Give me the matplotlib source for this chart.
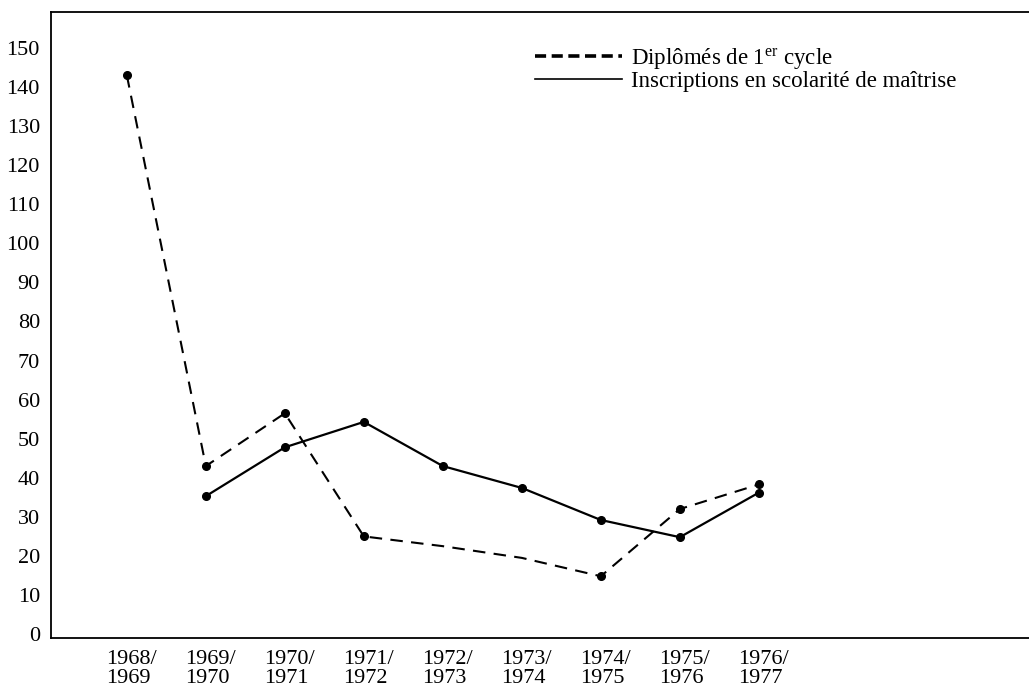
import matplotlib
matplotlib.use("Agg")
import matplotlib.pyplot as plt
import matplotlib.transforms as mtransforms
from matplotlib.lines import Line2D
import numpy as np

plt.rcParams['font.family'] = ['Liberation Serif', 'DejaVu Serif']
plt.rcParams['mathtext.fontset'] = 'custom'
plt.rcParams['mathtext.rm'] = 'Liberation Serif'
plt.rcParams['mathtext.it'] = 'Liberation Serif:italic'
plt.rcParams['lines.scale_dashes'] = False

annees = ['1968/\n1969', '1969/\n1970', '1970/\n1971', '1971/\n1972', '1972/\n1973',
          '1973/\n1974', '1974/\n1975', '1975/\n1976', '1976/\n1977']
diplomes = [143, 43, 56.5, 25, 22.5, 19.5, 14.8, 32, 38.3]
inscriptions = [35.3, 47.8, 54.3, 43, 37.4, 29.2, 24.8, 36.2]   # a partir de 1969/1970

lab_dipl = 'Diplômés de 1$^{\\mathrm{er}}$ cycle'
lab_insc = 'Inscriptions en scolarité de maîtrise'

x = np.arange(len(annees))

fig = plt.figure(figsize=(10.29, 6.9), dpi=100)
ax = fig.add_axes([51/1029, 1 - 638/690, 1 - 51/1029, (638 - 12)/690])

ax.plot(x, diplomes, color='black', lw=1.5, dashes=(9, 6),
        marker='o', ms=5.5, markevery=[0, 1, 2, 3, 6, 7, 8])
ax.plot(x[1:], inscriptions, color='black', lw=1.6,
        marker='o', ms=5.5)

ax.set_xlim(-0.96, 11.42)
ax.set_ylim(-1.0, 159.2)
ax.set_yticks(np.arange(0, 151, 10))
ax.set_xticks(x)
ax.set_xticklabels(annees, fontsize=16, linespacing=0.93, multialignment='left')
ax.tick_params(axis='y', length=0, pad=8, labelsize=16)
ax.tick_params(axis='x', length=0, pad=9)

# petit decalage des annees vers la droite
decal = mtransforms.ScaledTranslation(5/100, 0, fig.dpi_scale_trans)
for t in ax.get_xticklabels():
    t.set_transform(t.get_transform() + decal)

ax.spines['right'].set_visible(False)
for s in ['left', 'top', 'bottom']:
    ax.spines[s].set_linewidth(1.3)

poignees = [Line2D([], [], color='black', lw=2.6, dashes=(8, 4)),
            Line2D([], [], color='black', lw=1.2)]
ax.legend(poignees, [lab_dipl, lab_insc], loc='upper left',
          bbox_to_anchor=(535/1029, 1 - 46/690), bbox_transform=fig.transFigure,
          frameon=False, fontsize=16.5, handlelength=3.8, handletextpad=0.4,
          borderpad=0, borderaxespad=0, labelspacing=0.0)

fig.savefig('out.png', dpi=100)
